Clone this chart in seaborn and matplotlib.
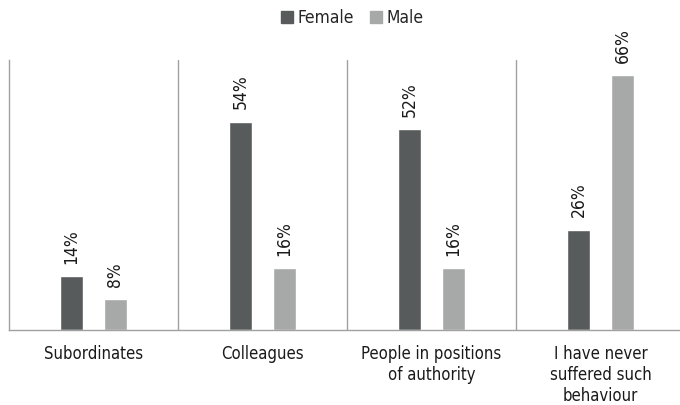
import matplotlib
matplotlib.use("Agg")
import matplotlib.pyplot as plt
from matplotlib.lines import Line2D
import seaborn as sns
import pandas as pd

categories = [
    "Subordinates",
    "Colleagues",
    "People in positions\nof authority",
    "I have never\nsuffered such\nbehaviour",
]
female = [14, 54, 52, 26]
male = [8, 16, 16, 66]
series = ["Female", "Male"]
colors = {"Female": "#575b5b", "Male": "#a7a9a9"}

df = pd.DataFrame({
    "category": categories * 2,
    "sex": ["Female"] * len(categories) + ["Male"] * len(categories),
    "value": female + male,
})

sns.set_theme(style="white")
plt.rcParams["font.family"] = ["DejaVu Sans"]
plt.rcParams["font.stretch"] = "condensed"

fig = plt.figure(figsize=(6.8, 4.05), dpi=100)
ax = fig.add_axes([9 / 680, 75 / 405, 676 / 680, 270 / 405])

sns.barplot(data=df, x="category", y="value", hue="sex", order=categories,
            hue_order=series, palette=colors, width=0.52, gap=0.48,
            legend=False, ax=ax, saturation=1)

for container in ax.containers:
    ax.bar_label(container, fmt="%d%%", rotation=90, padding=9,
                 fontsize=12.5, color="#1a1a1a", fontstretch="condensed")

ax.set_xlim(-0.5, 3.5)
ax.set_ylim(0, 70)
ax.set_xlabel("")
ax.set_ylabel("")
ax.set_yticks([])
ax.tick_params(axis="x", length=0, pad=11, labelsize=12, colors="#1a1a1a")
for lab in ax.get_xticklabels():
    lab.set_linespacing(1.2)
    lab.set_verticalalignment("top")
    lab.set_fontstretch("condensed")

for side in ["top", "right"]:
    ax.spines[side].set_visible(False)
for side in ["left", "bottom"]:
    ax.spines[side].set_color("#a0a0a0")
    ax.spines[side].set_linewidth(1.0)
for xpos in [0.5, 1.5, 2.5]:
    ax.axvline(xpos, color="#a0a0a0", linewidth=1.0, zorder=0)

handles = [Line2D([0], [0], marker="s", linestyle="", markersize=8.5,
                  color=colors[s]) for s in series]
fig.legend(handles, series, loc="center",
           bbox_to_anchor=(351 / 680, 1 - 18 / 405),
           ncol=2, frameon=False, handletextpad=0.1,
           columnspacing=0.8, handlelength=1.0,
           prop={"size": 12.5, "stretch": "condensed"})

fig.savefig("out.png", dpi=100)
